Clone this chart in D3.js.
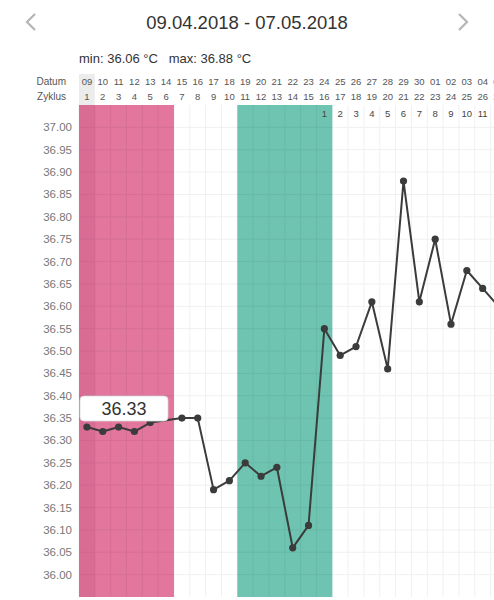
<!DOCTYPE html>
<html><head><meta charset="utf-8">
<script src="https://cdn.jsdelivr.net/npm/d3@7"></script>
<style>
html,body{margin:0;padding:0;background:#fff;overflow:hidden;}
svg{display:block;font-family:"Helvetica Neue",Helvetica,"Liberation Sans",Arial,sans-serif;}
</style></head>
<body>
<script>
const title = "09.04.2018 - 07.05.2018";
const minMaxText = "min: 36.06 °C   max: 36.88 °C";
const dates = ["09","10","11","12","13","14","15","16","17","18","19","20","21","22","23","24","25","26","27","28","29","30","01","02","03","04","05"];
const cycleDays = [1,2,3,4,5,6,7,8,9,10,11,12,13,14,15,16,17,18,19,20,21,22,23,24,25,26,27];
const nextCycleDays = [null,null,null,null,null,null,null,null,null,null,null,null,null,null,null,1,2,3,4,5,6,7,8,9,10,11,12];
const temps = [36.33,36.32,36.33,36.32,36.34,null,36.35,36.35,36.19,36.21,36.25,36.22,36.24,36.06,36.11,36.55,36.49,36.51,36.61,36.46,36.88,36.61,36.75,36.56,36.68,36.64,36.60];
const yTicks = [36.00,36.05,36.10,36.15,36.20,36.25,36.30,36.35,36.40,36.45,36.50,36.55,36.60,36.65,36.70,36.75,36.80,36.85,36.90,36.95,37.00];
const periodBands = [{start:0,end:5,type:"menstruation"},{start:10,end:15,type:"fertile"}];
const tooltipIndex = 0;

const W = 494, H = 600;
const colW = 15.83;
const x0 = 79;
const plotTop = 105, plotBottom = 597;

const svg = d3.select("body").append("svg").attr("width", W).attr("height", H);

const x = d3.scaleBand().domain(d3.range(dates.length)).range([x0, x0 + colW*dates.length]).paddingInner(0).paddingOuter(0);
const y = d3.scaleLinear().domain([35.95, 37.05]).range([plotBottom, plotTop]);

// Header
svg.append("text").attr("x", 247).attr("y", 29).attr("text-anchor","middle")
  .attr("font-size", 18.5).attr("fill", "#333").text(title);
const chev = (cx, dir) => svg.append("path")
  .attr("d", `M${cx+dir*4},14 L${cx-dir*4},22 L${cx+dir*4},30`)
  .attr("fill","none").attr("stroke","#b5b5b5").attr("stroke-width",2.2);
chev(31, 1); chev(463, -1);

svg.append("text").attr("x", 79).attr("y", 63).attr("font-size", 13).attr("fill","#333")
  .attr("xml:space","preserve").style("white-space","pre").text(minMaxText);

// highlighted first column header background
svg.append("rect").attr("x", x(0)).attr("y", 74).attr("width", x.bandwidth()).attr("height", plotTop-74).attr("fill", "#ececec");

svg.append("text").attr("x", 66).attr("y", 85).attr("text-anchor","end").attr("font-size", 10).attr("fill","#555").text("Datum");
svg.append("text").attr("x", 66).attr("y", 100).attr("text-anchor","end").attr("font-size", 10).attr("fill","#555").text("Zyklus");

svg.append("g").selectAll("text").data(dates).join("text")
  .attr("x", (d,i) => x(i) + x.bandwidth()/2).attr("y", 85)
  .attr("text-anchor","middle").attr("font-size", 9.5).attr("fill","#555").text(d => d);
svg.append("g").selectAll("text").data(cycleDays).join("text")
  .attr("x", (d,i) => x(i) + x.bandwidth()/2).attr("y", 100)
  .attr("text-anchor","middle").attr("font-size", 9.5).attr("fill","#555").text(d => d);

// grid
const grid = svg.append("g");
grid.selectAll("line.v").data(d3.range(dates.length + 1)).join("line").attr("class","v")
  .attr("x1", i => x0 + i*colW).attr("x2", i => x0 + i*colW)
  .attr("y1", plotTop).attr("y2", plotBottom).attr("stroke", "#f0f0f0").attr("stroke-width", 1);
grid.selectAll("line.h").data(yTicks).join("line").attr("class","h")
  .attr("x1", x0).attr("x2", x0 + colW*dates.length)
  .attr("y1", d => y(d)).attr("y2", d => y(d)).attr("stroke", "#f0f0f0").attr("stroke-width", 1);

// bands
const bandColor = {menstruation:"#e2769c", fertile:"#6ec4b1"};
svg.append("g").selectAll("rect").data(periodBands).join("rect")
  .attr("x", d => x(d.start)).attr("y", plotTop)
  .attr("width", d => x(d.end) + x.bandwidth() - x(d.start)).attr("height", plotBottom - plotTop)
  .attr("fill", d => bandColor[d.type]);
// faint grid on top of bands
const bandGrid = svg.append("g").attr("opacity", 0.05);
periodBands.forEach(b => {
  d3.range(b.start + 1, b.end + 1).forEach(i => {
    bandGrid.append("line").attr("x1", x(i)).attr("x2", x(i)).attr("y1", plotTop).attr("y2", plotBottom).attr("stroke","#000");
  });
  yTicks.forEach(t => {
    bandGrid.append("line").attr("x1", x(b.start)).attr("x2", x(b.end)+x.bandwidth()).attr("y1", y(t)).attr("y2", y(t)).attr("stroke","#000");
  });
});
// darker first column (selected day)
svg.append("rect").attr("x", x(0)).attr("y", plotTop).attr("width", x.bandwidth()).attr("height", plotBottom-plotTop)
  .attr("fill", "#b84a75").attr("opacity", 0.22);

// next cycle day numbers
svg.append("g").selectAll("text").data(nextCycleDays.map((d,i)=>({d,i})).filter(o=>o.d!==null)).join("text")
  .attr("x", o => x(o.i) + x.bandwidth()/2).attr("y", 117)
  .attr("text-anchor","middle").attr("font-size", 9.5).attr("fill","#444").text(o => o.d);

// y axis labels
svg.append("g").selectAll("text").data(yTicks).join("text")
  .attr("x", 72).attr("y", d => y(d) + 4).attr("text-anchor","end")
  .attr("font-size", 11.5).attr("fill","#777").text(d => d.toFixed(2));

// line
const pts = temps.map((v,i) => ({v,i})).filter(p => p.v !== null);
const line = d3.line().x(p => x(p.i) + x.bandwidth()/2).y(p => y(p.v));
svg.append("path").datum(pts).attr("d", line).attr("fill","none")
  .attr("stroke","#3b3b3b").attr("stroke-width",2).attr("stroke-linejoin","round");
svg.append("g").selectAll("circle").data(pts).join("circle")
  .attr("cx", p => x(p.i) + x.bandwidth()/2).attr("cy", p => y(p.v)).attr("r", 3.6).attr("fill","#3b3b3b");

// tooltip
const tv = temps[tooltipIndex];
const tx = x(tooltipIndex) + 1, ty = y(tv) - 31;
svg.append("rect").attr("x", tx).attr("y", ty).attr("width", 88).attr("height", 25).attr("rx", 4)
  .attr("fill","#fff").attr("stroke","#d8d8d8").attr("stroke-width",0.8);
svg.append("text").attr("x", tx + 44).attr("y", ty + 19).attr("text-anchor","middle")
  .attr("font-size", 18).attr("fill","#333").text(tv.toFixed(2));
</script>
</body></html>
